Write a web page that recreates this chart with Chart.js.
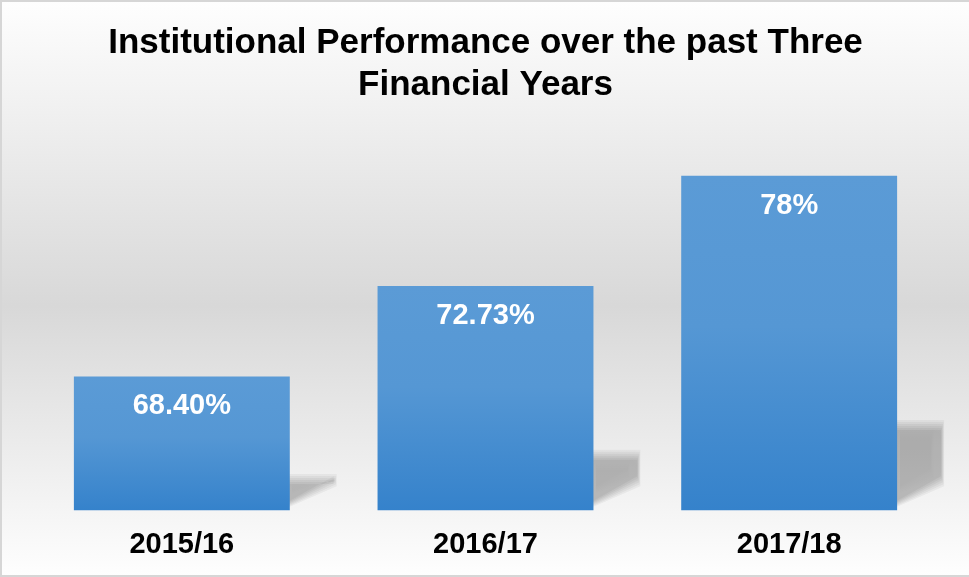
<!DOCTYPE html>
<html>
<head>
<meta charset="utf-8">
<title>Institutional Performance</title>
<script src="https://cdn.jsdelivr.net/npm/chart.js@4.4.1/dist/chart.umd.min.js"></script>
<style>
    html, body { margin: 0; padding: 0; background: #ffffff; }
    .chart-box { position: relative; width: 969px; height: 577px; }
</style>
</head>
<body>
<div class="chart-box">
    <canvas id="myChart" width="969" height="577"></canvas>
</div>
<script>
// chart data
const years = ['2015/16', '2016/17', '2017/18'];
const performance = [68.40, 72.73, 78];
const valueLabels = ['68.40%', '72.73%', '78%'];
const titleLines = ['Institutional Performance over the past Three', 'Financial Years'];

const fontFamily = "'Liberation Sans', Arial, sans-serif";

// grey panel behind the chart with a thin border
const panelBackground = {
    id: 'panelBackground',
    beforeDraw(chart) {
        const ctx = chart.ctx;
        const w = chart.width, h = chart.height;
        const grad = ctx.createLinearGradient(0, 0, 0, h);
        grad.addColorStop(0, '#fefefe');
        grad.addColorStop(0.53, '#d8d8d8');
        grad.addColorStop(1, '#fefefe');
        ctx.save();
        ctx.fillStyle = grad;
        ctx.fillRect(0, 0, w, h);
        ctx.fillStyle = '#d6d6d6';
        ctx.fillRect(0, 0, w, 2);
        ctx.fillRect(0, h - 2, w, 2);
        ctx.fillRect(0, 0, 2, h);
        ctx.restore();
    }
};

// soft perspective shadow to the right of each bar
const barShadows = {
    id: 'barShadows',
    beforeDatasetsDraw(chart) {
        const ctx = chart.ctx;
        const yScale = chart.scales.y;
        const base = chart.chartArea.bottom;
        const bars = chart.getDatasetMeta(0).data;
        ctx.save();
        ctx.shadowColor = 'rgba(0, 0, 0, 0.24)';
        ctx.shadowBlur = 8;
        bars.forEach((bar, i) => {
            const right = bar.x + bar.width / 2;
            const top = yScale.getPixelForValue(performance[i]);
            const sTop = base - (base - top) * 0.27;
            // layered fills give a soft edge without relying on filters
            for (let k = 0; k < 6; k++) {
                const inset = k * 2;
                ctx.fillStyle = 'rgba(0, 0, 0, 0.04)';
                ctx.beginPath();
                ctx.moveTo(right - 8, base - inset * 0.5);
                ctx.lineTo(right + 47 - inset * 0.3, base - 24 - inset);
                ctx.lineTo(right + 47 - inset * 0.3, sTop + inset);
                ctx.lineTo(right - 8, sTop + inset);
                ctx.closePath();
                ctx.fill();
            }
        });
        ctx.restore();
    }
};

// white value labels near the top of each bar
const barLabels = {
    id: 'barLabels',
    afterDatasetsDraw(chart) {
        const ctx = chart.ctx;
        const bars = chart.getDatasetMeta(0).data;
        ctx.save();
        ctx.fillStyle = '#ffffff';
        ctx.font = 'bold 29px ' + fontFamily;
        ctx.textAlign = 'center';
        ctx.textBaseline = 'middle';
        bars.forEach((bar, i) => {
            ctx.fillText(valueLabels[i], bar.x, bar.y + 30);
        });
        ctx.restore();
    }
};

function barGradient(context) {
    const chart = context.chart;
    const { chartArea, scales } = chart;
    if (!chartArea || context.dataIndex === undefined) return '#4a8fd2';
    const top = scales.y.getPixelForValue(performance[context.dataIndex]);
    const grad = chart.ctx.createLinearGradient(0, top, 0, chartArea.bottom);
    grad.addColorStop(0, '#5b9bd6');
    grad.addColorStop(0.45, '#5597d4');
    grad.addColorStop(1, '#3582cb');
    return grad;
}

const ctx = document.getElementById('myChart');
new Chart(ctx, {
    type: 'bar',
    data: {
        labels: years,
        datasets: [{
            data: performance,
            backgroundColor: barGradient,
            borderWidth: 0,
            barPercentage: 0.711,
            categoryPercentage: 1.0
        }]
    },
    options: {
        responsive: false,
        animation: false,
        layout: {
            padding: { left: 30, right: 28, top: 0, bottom: 6 }
        },
        plugins: {
            legend: { display: false },
            tooltip: { enabled: false },
            title: {
                display: true,
                text: titleLines,
                color: '#000000',
                font: { family: fontFamily, size: 35, weight: 'bold', lineHeight: 1.2 },
                padding: { top: 22, bottom: 28 }
            }
        },
        scales: {
            x: {
                grid: { display: false },
                border: { display: false },
                ticks: {
                    color: '#000000',
                    padding: 9,
                    font: { family: fontFamily, size: 29, weight: 'bold' }
                }
            },
            y: {
                display: false,
                min: 62,
                max: 80
            }
        }
    },
    plugins: [panelBackground, barShadows, barLabels]
});
</script>
</body>
</html>
